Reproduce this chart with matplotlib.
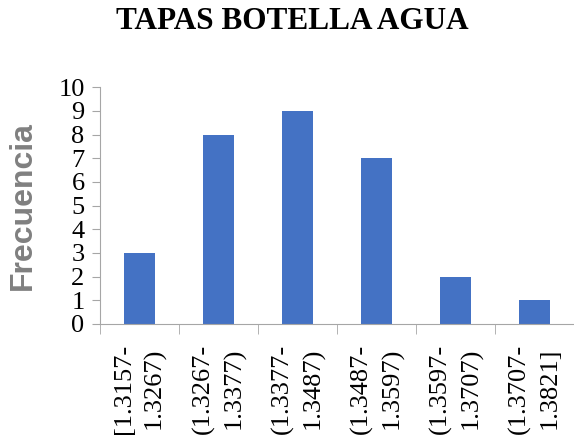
import numpy as np
import matplotlib
matplotlib.use("Agg")
import matplotlib.pyplot as plt

# class intervals and counts
intervalos = ["[1.3157-\n1.3267)", "(1.3267-\n1.3377)", "(1.3377-\n1.3487)",
              "(1.3487-\n1.3597)", "(1.3597-\n1.3707)", "(1.3707-\n1.3821]"]
frecuencia = [3, 8, 9, 7, 2, 1]
yticks = list(range(0, 11))

fig = plt.figure(figsize=(5.74, 4.36), dpi=100)
ax = fig.add_axes([0.174, 0.257, 0.826, 0.543])

x = np.arange(len(intervalos))
ax.bar(x, frecuencia, width=0.39, color="#4472C4")

ax.set_xlim(-0.5, len(intervalos) - 0.5)
ax.set_ylim(0, 10)
ax.set_yticks(yticks)
ax.set_yticklabels([str(t) for t in yticks], family="Liberation Serif", fontsize=19)

# category labels centred, tick marks between categories
ax.set_xticks(x)
ax.set_xticklabels(intervalos, rotation=90, family="Liberation Serif", fontsize=19,
                   linespacing=1.45)
ax.tick_params(axis="x", length=0, pad=14)
ax.set_xticks(np.arange(-0.5, len(intervalos) + 0.5, 1), minor=True)
ax.tick_params(axis="x", which="minor", length=7, color="#A6A6A6", direction="out")
ax.tick_params(axis="y", length=6, color="#A6A6A6", pad=5)

for s in ["top", "right"]:
    ax.spines[s].set_visible(False)
for s in ["left", "bottom"]:
    ax.spines[s].set_color("#A6A6A6")

ax.set_ylabel("Frecuencia", family="Liberation Sans", fontweight="bold",
              fontsize=23, color="#808080")
ax.yaxis.set_label_coords(-0.13, 0.5)
fig.text(0.509, 0.95, "TAPAS BOTELLA AGUA", ha="center", va="center",
         family="Liberation Serif", fontweight="bold", fontsize=22.5)

fig.savefig("out.png", dpi=100)
